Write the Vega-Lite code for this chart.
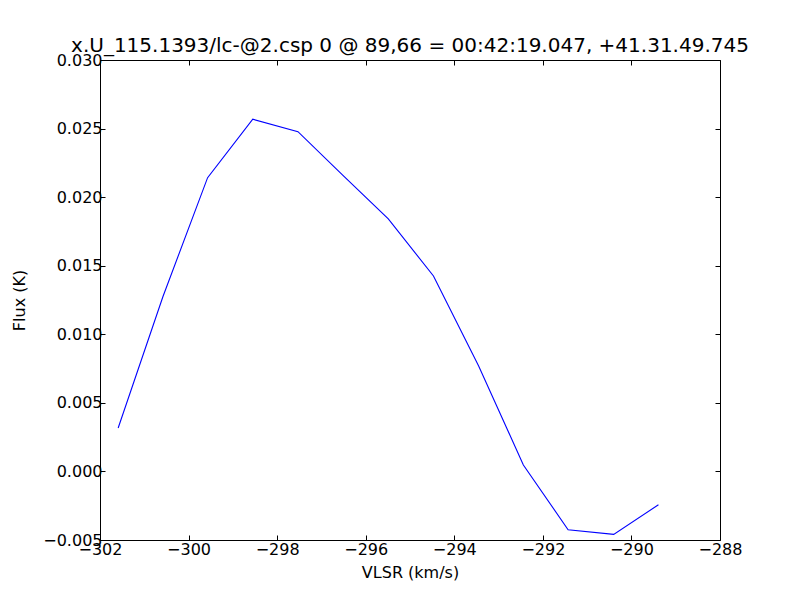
{
  "$schema": "https://vega.github.io/schema/vega-lite/v6.json",
  "width": 620,
  "height": 480,
  "autosize": "none",
  "padding": {"left": 100, "top": 60, "right": 80, "bottom": 60},
  "background": "white",
  "title": {
    "text": "x.U_115.1393/lc-@2.csp 0 @ 89,66 = 00:42:19.047, +41.31.49.745",
    "font": "DejaVu Sans",
    "fontSize": 20,
    "fontWeight": "normal",
    "color": "black",
    "anchor": "middle",
    "offset": -4
  },
  "config": {
    "view": {"stroke": "black", "strokeWidth": 1},
    "axis": {
      "labelFont": "DejaVu Sans",
      "labelFontSize": 16,
      "labelColor": "black",
      "labelFlush": false,
      "titleFont": "DejaVu Sans",
      "titleFontSize": 16,
      "titleFontWeight": "normal",
      "titleColor": "black",
      "grid": false,
      "domain": false,
      "tickColor": "black",
      "tickSize": -5,
      "tickWidth": 1
    }
  },
  "data": {
    "values": [
      {"v": -301.59, "f": 0.00317},
      {"v": -300.58, "f": 0.01274},
      {"v": -299.57, "f": 0.02142},
      {"v": -298.55, "f": 0.02568},
      {"v": -297.53, "f": 0.02477},
      {"v": -296.52, "f": 0.02161},
      {"v": -295.49, "f": 0.01841},
      {"v": -294.47, "f": 0.01425},
      {"v": -293.45, "f": 0.00769},
      {"v": -292.44, "f": 0.00047},
      {"v": -291.43, "f": -0.00425},
      {"v": -290.40, "f": -0.00459},
      {"v": -289.39, "f": -0.00243}
    ]
  },
  "layer": [
    {
      "mark": {"type": "line", "color": "#0000ff", "strokeWidth": 1.1, "clip": true},
      "encoding": {
        "x": {
          "field": "v", "type": "quantitative",
          "scale": {"domain": [-302, -288], "nice": false, "zero": false},
          "axis": {"orient": "bottom", "values": [-302, -300, -298, -296, -294, -292, -290, -288], "format": "d", "title": "VLSR (km/s)", "labelPadding": 6, "titleY": 24}
        },
        "y": {
          "field": "f", "type": "quantitative",
          "scale": {"domain": [-0.005, 0.03], "nice": false, "zero": false},
          "axis": {"orient": "left", "values": [-0.005, 0, 0.005, 0.01, 0.015, 0.02, 0.025, 0.03], "format": ".3f", "title": "Flux (K)", "labelPadding": 3, "titleX": -73}
        }
      }
    },
    {
      "mark": {"type": "line", "opacity": 0},
      "encoding": {
        "x": {
          "field": "v", "type": "quantitative",
          "scale": {"domain": [-302, -288], "nice": false, "zero": false},
          "axis": {"orient": "top", "values": [-302, -300, -298, -296, -294, -292, -290, -288], "labels": false, "title": null, "maxExtent": 0, "minExtent": 0}
        },
        "y": {
          "field": "f", "type": "quantitative",
          "scale": {"domain": [-0.005, 0.03], "nice": false, "zero": false},
          "axis": {"orient": "right", "values": [-0.005, 0, 0.005, 0.01, 0.015, 0.02, 0.025, 0.03], "labels": false, "title": null}
        }
      }
    }
  ],
  "resolve": {"axis": {"x": "independent", "y": "independent"}}
}
